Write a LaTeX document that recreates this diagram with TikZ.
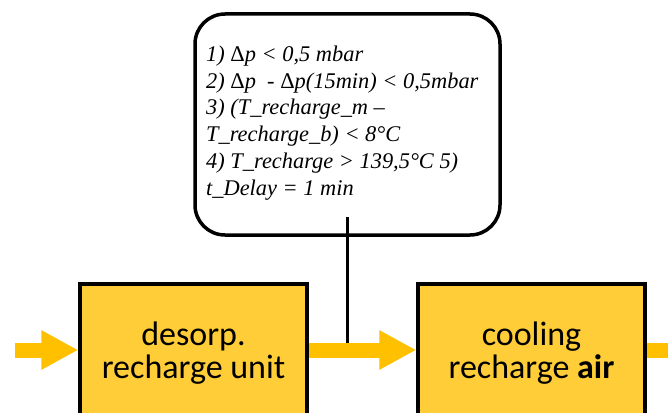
\documentclass[tikz,border=0pt]{standalone}
\usepackage{fontspec}
\setmainfont{Liberation Serif}
\newfontfamily\boxfont{Carlito}
\usetikzlibrary{arrows.meta}
\definecolor{boxfill}{HTML}{FFCD37}
\definecolor{flow}{HTML}{FFC000}
\newcommand{\dlt}{{\upshape Δ}}
\tikzset{
  unitbox/.style={draw=black, line width=3.5pt, fill=boxfill,
    minimum width=227pt, minimum height=132pt, inner sep=0pt},
  unittext/.style={font=\boxfont\fontsize{34}{33}\selectfont, align=center,
    inner sep=0pt, anchor=base},
  condbox/.style={draw=black, line width=3.5pt, rounded corners=30pt,
    minimum width=305pt, minimum height=221pt, inner sep=0pt, fill=white},
  condtext/.style={font=\itshape\fontsize{22.4}{26.7}\selectfont, align=left,
    inner sep=0pt, anchor=base west},
  flowarrow/.style={draw=flow, line width=15pt,
    -{Triangle[length=37pt,width=37pt]}},
  flowline/.style={draw=flow, line width=15pt},
  tapline/.style={draw=black, line width=3pt}
}
\begin{document}
\begin{tikzpicture}[x=1pt,y=-1pt]
  \useasboundingbox (0,0) rectangle (668,412);
  \clip (0,0) rectangle (668,412);
  \fill[white] (0,0) rectangle (668,412);

  % process units (the multi-line text sits on the baseline of its last line)
  \node[unitbox] (desorp) at (193.5,350) {};
  \node[unitbox] (cooling) at (531.5,350) {};
  \node[unittext] (desorptext) at (193.5,378) {desorp.\\recharge unit};
  \node[unittext] (coolingtext) at (531.5,378) {cooling\\recharge \textbf{air}};

  % switching conditions
  \node[condbox] (cond) at (347.5,124.5) {};
  \node[condtext] (condlist) at (206,195) {%
    1) \dlt p {<} 0,5 mbar\\
    2) \dlt p\ \ - \dlt p(15min) {<} 0,5mbar\\
    3) (T\_recharge\_m –\\
    T\_recharge\_b) {<} 8°C\\
    4) T\_recharge {>} 139,5°C 5)\\
    t\_Delay = 1 min};

  % flow arrows
  \coordinate (inlet) at (15,350);
  \coordinate (outlet) at (668,350);
  \coordinate (tap) at (347,343);
  \draw[flowarrow] (inlet) -- (desorp.west);
  \draw[flowarrow] (desorp.east) -- (cooling.west);
  \draw[flowline] (cooling.east) -- (outlet);

  % condition tap onto the flow
  \draw[tapline] (tap |- cond.south) ++(0,-20) -- (tap);
\end{tikzpicture}
\end{document}
